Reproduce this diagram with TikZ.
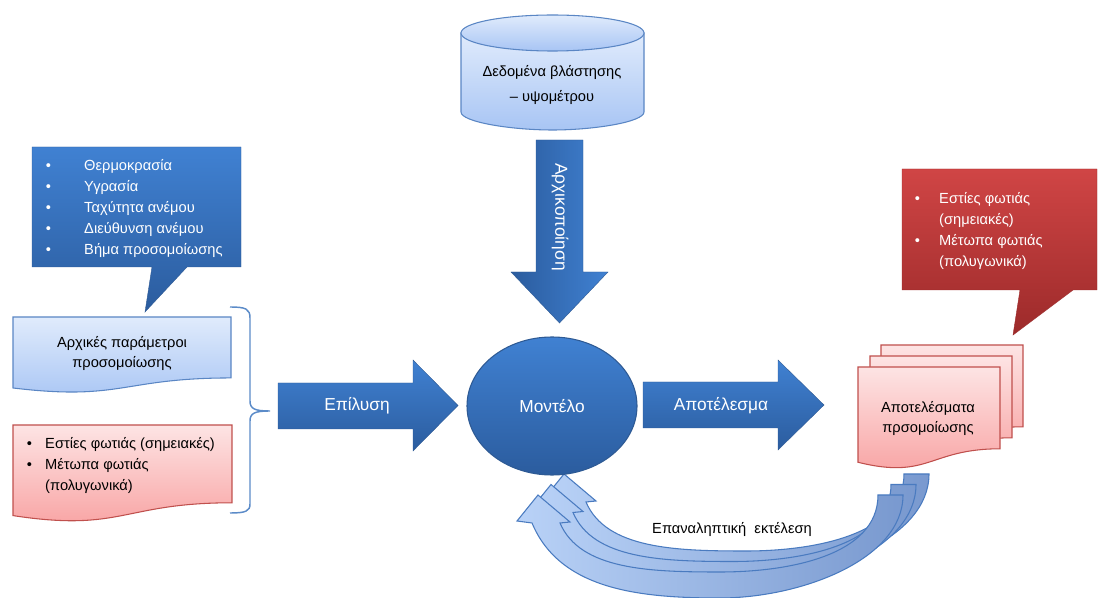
\documentclass[tikz,border=0pt]{standalone}
\usepackage{fontspec}
\setmainfont{Liberation Sans}
\usetikzlibrary{shapes.geometric}

\definecolor{blockTop}{HTML}{4081D2}
\definecolor{blockBot}{HTML}{2B5C9E}
\definecolor{blockLine}{HTML}{2E5A94}
\definecolor{paleTop}{HTML}{E0EBFC}
\definecolor{paleBot}{HTML}{A8C5F4}
\definecolor{paleLine}{HTML}{5A86C4}
\definecolor{pinkTop}{HTML}{FDE4E4}
\definecolor{pinkBot}{HTML}{F8A0A0}
\definecolor{pinkLine}{HTML}{C0504D}
\definecolor{redTop}{HTML}{D04545}
\definecolor{redBot}{HTML}{9C2A2A}
\definecolor{loopLight}{HTML}{B9D2F7}
\definecolor{loopDark}{HTML}{7999CF}
\definecolor{loopLine}{HTML}{4A7BC0}
\definecolor{braceLine}{HTML}{5B8BC8}

\tikzset{
    block-arrow/.style = {top color=blockTop, bottom color=blockBot, draw=blockLine, line width=0.3pt},
    block-arrow-v/.style = {left color=blockBot, right color=blockTop, draw=blockLine, line width=0.3pt},
    model-ellipse/.style = {ellipse, top color=blockTop, bottom color=blockBot, draw=blockLine, line width=0.8pt, inner sep=0pt},
    pale-box/.style = {top color=paleTop, bottom color=paleBot, draw=paleLine, line width=0.8pt},
    pink-box/.style = {top color=pinkTop, bottom color=pinkBot, draw=pinkLine, line width=0.8pt},
    blue-callout/.style = {top color=blockTop, bottom color=blockBot, draw=blockLine, line width=0.3pt},
    red-callout/.style = {top color=redTop, bottom color=redBot, draw=redBot, line width=0.3pt},
    loop-arrow/.style = {left color=loopLight, right color=loopDark, draw=loopLine, line width=0.8pt},
    brace-line/.style = {draw=braceLine, line width=1.1pt},
    big-label/.style = {text=white, font=\fontsize{13}{15}\selectfont, inner sep=0pt},
    small-label/.style = {font=\fontsize{11}{15}\selectfont, align=center, inner sep=0pt},
    list-label/.style = {font=\fontsize{11}{15.75}\selectfont, inner sep=0pt, anchor=west},
}

% flowchart document outline: style, x, y, width, height
\newcommand{\docshape}[5]{%
    \path[#1] (#2,#3) -- ({#2+#4},#3) -- ({#2+#4},{#3+0.802*#5})
        .. controls ({#2+0.5*#4},{#3+0.802*#5}) and ({#2+0.5*#4},{#3+1.107*#5}) .. (#2,{#3+0.934*#5}) -- cycle;}

\begin{document}
\begin{tikzpicture}[x=0.75pt, y=-0.75pt]
\useasboundingbox (0,0) rectangle (1104,598);

% database on top
\path[pale-box] (461,33) -- (461,112) .. controls (461,122) and (511,130) .. (552.5,130)
    .. controls (594,130) and (644,122) .. (644,112) -- (644,33) -- cycle;
\path[pale-box] (552.5,33) ellipse [x radius=91.5, y radius=18];
\node[small-label, font=\fontsize{11}{18.5}\selectfont] (data) at (552,85) {Δεδομένα βλάστησης\\– υψομέτρου};

\path[block-arrow-v] (536,140) -- (583,140) -- (583,272) -- (608,272) -- (559.5,323) -- (511,272) -- (536,272) -- cycle;
\node[big-label, rotate=-90] (init) at (560,217) {Αρχικοποίηση};

% feedback loop
\foreach \s in {2,1,0}{
    \begin{scope}[shift={(13*\s,-10.5*\s)}]
        \path[loop-arrow] (878,495) -- (903,495)
            .. controls (903,560) and (800,598) .. (720,598)
            .. controls (640,598) and (560,590) .. (532,523)
            -- (517,521) -- (538,495) -- (570,522) -- (560,523)
            .. controls (580,570) and (650,572) .. (720,572)
            .. controls (790,572) and (878,555) .. (878,495) -- cycle;
    \end{scope}
}
\node[small-label] (repeat) at (732,529) {Επαναληπτική\ \ εκτέλεση};

% model
\node[model-ellipse, minimum width=127.5pt, minimum height=103.5pt] (model) at (552,406) {};
\node[big-label] (modeltext) at (model) {Μοντέλο};

\path[block-arrow] (278,383) -- (413,383) -- (413,360) -- (458,405.5) -- (413,451) -- (413,429) -- (278,429) -- cycle;
\node[big-label] (solve) at (357,406) {Επίλυση};
\path[block-arrow] (643,382) -- (778,382) -- (778,360) -- (824,405) -- (778,450) -- (778,428) -- (643,428) -- cycle;
\node[big-label] (result) at (721,406) {Αποτέλεσμα};

% inputs on the left
\path[blue-callout] (32,147) -- (241,147) -- (241,267) -- (187,267) -- (145,312) -- (152,267) -- (32,267) -- cycle;
\node[list-label, text=white] (weather) at (45.5,208) {\begin{tabular}{@{}l@{\hspace{25pt}}l@{}}
    \textbullet & Θερμοκρασία\\
    \textbullet & Υγρασία\\
    \textbullet & Ταχύτητα ανέμου\\
    \textbullet & Διεύθυνση ανέμου\\
    \textbullet & Βήμα προσομοίωσης
\end{tabular}};

\docshape{pale-box}{13}{317}{218}{76}
\node[small-label] (params) at (122,353) {Αρχικές παράμετροι\\προσομοίωσης};

\docshape{pink-box}{13}{425}{219}{97}
\node[list-label] (firein) at (26.5,465) {\begin{tabular}{@{}l@{\hspace{10pt}}l@{}}
    \textbullet & Εστίες φωτιάς (σημειακές)\\
    \textbullet & Μέτωπα φωτιάς\\
     & (πολυγωνικά)
\end{tabular}};

\draw[brace-line] (230,307) .. controls (246,307) and (250,309) .. (250,318) -- (250,401)
    .. controls (250,409) and (255,411) .. (270,411)
    .. controls (255,411) and (250,413) .. (250,421) -- (250,504)
    .. controls (250,511) and (246,513) .. (230,513);

% outputs on the right
\docshape{pink-box}{881}{345}{142}{102}
\docshape{pink-box}{870}{356}{142}{102}
\docshape{pink-box}{858}{367}{142}{102}
\node[small-label] (output) at (928,418) {Αποτελέσματα\\πρσομοίωσης};

\path[red-callout] (902,169) -- (1097,169) -- (1097,290) -- (1073,290) -- (1013,335) -- (1020,290) -- (902,290) -- cycle;
\node[list-label, text=white] (fireout) at (914.5,231) {\begin{tabular}{@{}l@{\hspace{14.5pt}}l@{}}
    \textbullet & Εστίες φωτιάς\\
     & (σημειακές)\\
    \textbullet & Μέτωπα φωτιάς\\
     & (πολυγωνικά)
\end{tabular}};
\end{tikzpicture}
\end{document}
